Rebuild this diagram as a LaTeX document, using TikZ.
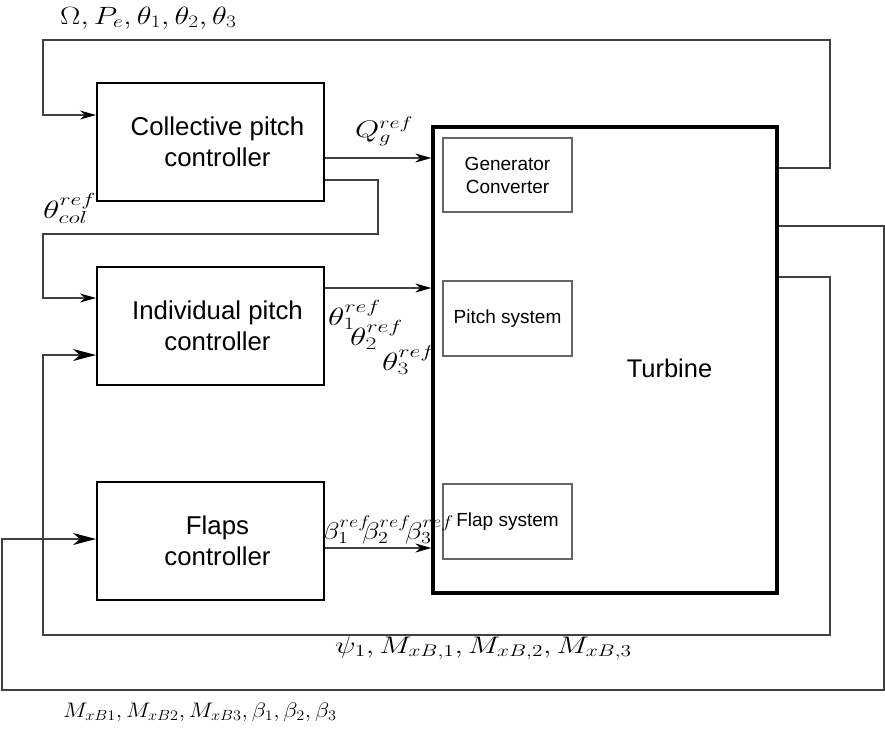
\RequirePackage{fix-cm}
\documentclass[tikz,border=0pt]{standalone}
\usepackage{graphicx}
\usepackage{fontspec}
\setmainfont{Liberation Sans}
\usetikzlibrary{arrows.meta}
\newcommand\ctrlfont{\fontsize{25.8}{31}\selectfont}
\newcommand\subsysfont{\fontsize{19}{23}\selectfont}
\newcommand\hstretch[2]{\scalebox{#1}[1]{#2}}
\newcommand\ind{\hspace*{14pt}}
\tikzset{
  ctrl/.style={draw=black, line width=2pt, minimum width=227pt, minimum height=118pt, align=center, font=\ctrlfont, inner sep=0pt},
  subsys/.style={draw=black!60, line width=1.3pt, minimum width=129pt, minimum height=74pt, align=center, font=\subsysfont, inner sep=0pt},
  turbinebox/.style={draw=black, line width=3.3pt, minimum width=344pt, minimum height=466pt, inner sep=0pt},
  wire/.style={draw=black!75, line width=1.2pt},
  arr/.style={wire, -{Stealth[length=16pt, width=9pt, inset=5pt, color=black]}},
  bigarr/.style={wire, -{Stealth[length=23pt, width=12pt, inset=7pt, color=black]}},
  lbl/.style={font=\fontsize{25}{29}\selectfont, inner sep=0pt, anchor=base west},
}
\begin{document}
\begin{tikzpicture}[x=1pt, y=-1pt]
\useasboundingbox (0,0) rectangle (885,729);
% blocks
\node[ctrl] (cpc) at (210.5,142) {\ind Collective pitch\\\ind controller};
\node[ctrl] (ipc) at (210.5,325.5) {\ind Individual pitch\\\ind controller};
\node[ctrl] (fc) at (210.5,540.5) {\ind Flaps\\\ind controller};
\node[turbinebox] (turb) at (605,360) {};
\node[font=\fontsize{25.5}{30}\selectfont, inner sep=0pt] (turblbl) at (669.5,368) {Turbine};
\node[subsys] (gen) at (507.5,175) {Generator\\Converter};
\node[subsys, minimum height=75pt] (pitch) at (507.5,318.5) {Pitch system};
\node[subsys, minimum height=75pt] (flap) at (507.5,521.5) {Flap system};
% connectors
\draw[arr] (cpc.east |- 0,158) -- (turb.west |- 0,158);
\draw[arr] (ipc.east |- 0,288) -- (turb.west |- 0,288);
\draw[arr] (fc.east |- 0,548) -- (turb.west |- 0,548);
\draw[arr] (turb.east |- 0,168) -- (830,168) -- (830,40) -- (43,40) -- (43,115) -- (cpc.west |- 0,115);
\draw[arr] (cpc.east |- 0,180) -- (378,180) -- (378,234) -- (43,234) -- (43,298) -- (ipc.west |- 0,298);
\draw[bigarr] (turb.east |- 0,226) -- (884,226) -- (884,690) -- (2,690) -- (2,539) -- (fc.west |- 0,539);
\draw[bigarr] (turb.east |- 0,277) -- (830,277) -- (830,635) -- (43,635) -- (43,355) -- (ipc.west |- 0,355);
% labels
\node[lbl] (lmeas) at (60,24) {\hstretch{1.22}{$\Omega, P_e, \theta_1, \theta_2, \theta_3$}};
\node[lbl, font=\fontsize{24}{28}\selectfont] (lqg) at (355,137) {\hstretch{1.3}{$Q_g^{ref}$}};
\node[lbl] (lcol) at (43,218) {\hstretch{1.35}{$\theta_{col}^{ref}$}};
\node[lbl] (lt1) at (328,325) {\hstretch{1.35}{$\theta_1^{ref}$}};
\node[lbl] (lt2) at (350,345) {\hstretch{1.35}{$\theta_2^{ref}$}};
\node[lbl] (lt3) at (382,370) {\hstretch{1.35}{$\theta_3^{ref}$}};
\node[lbl, font=\fontsize{24}{28}\selectfont] (lb1) at (322,539) {\hstretch{1.2}{$\beta_1^{ref}$}};
\node[lbl, font=\fontsize{24}{28}\selectfont] (lb2) at (362,539) {\hstretch{1.2}{$\beta_2^{ref}$}};
\node[lbl, font=\fontsize{24}{28}\selectfont] (lb3) at (405,539) {\hstretch{1.2}{$\beta_3^{ref}$}};
\node[lbl, font=\fontsize{24}{28}\selectfont] (lpsi) at (335,653) {\hstretch{1.28}{$\psi_1, M_{xB,1}, M_{xB,2}, M_{xB,3}$}};
\node[lbl, font=\fontsize{21}{25}\selectfont] (lmx) at (63,717) {\hstretch{1.11}{$M_{xB1}, M_{xB2}, M_{xB3}, \beta_1, \beta_2, \beta_3$}};
\end{tikzpicture}
\end{document}
